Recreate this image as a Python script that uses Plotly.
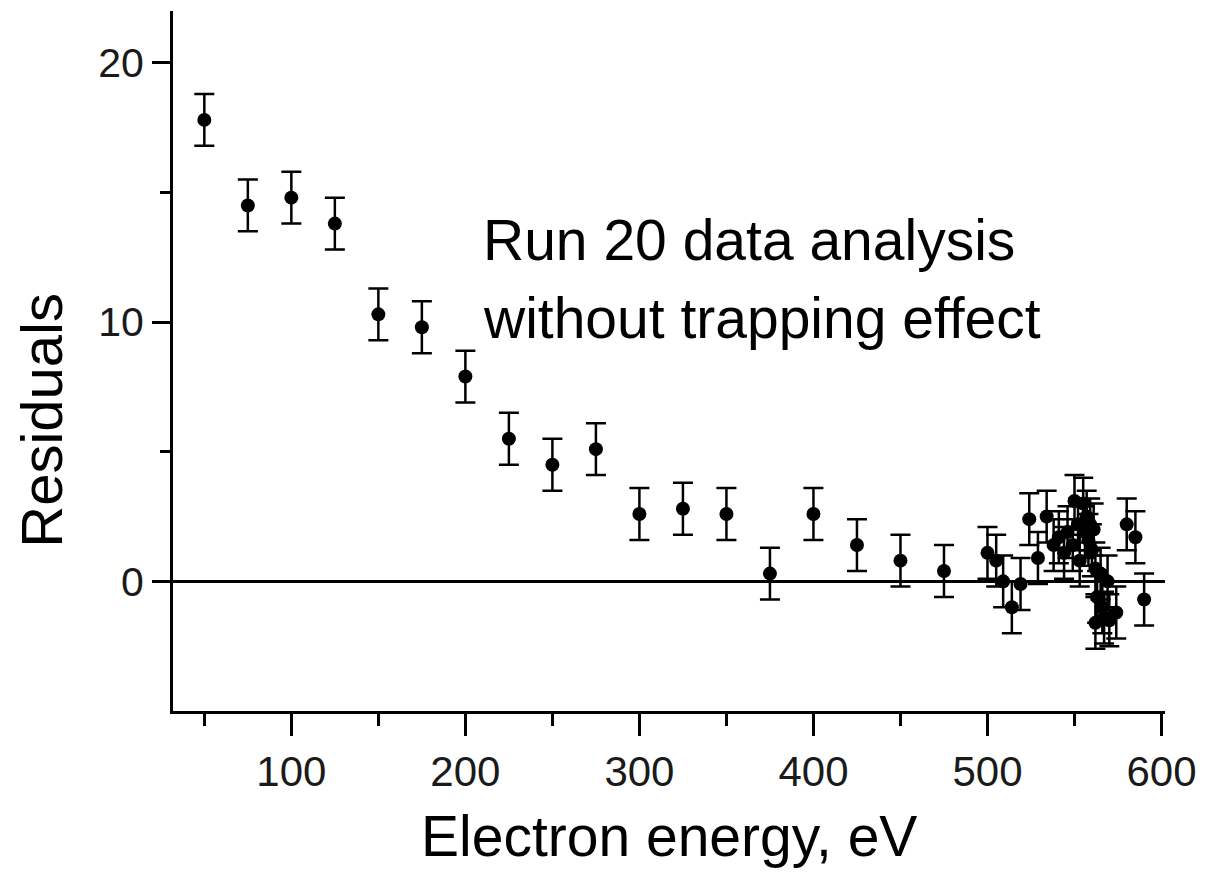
import plotly.graph_objects as go

# Electron energy (eV) and fit residuals
energy = [50, 75, 100, 125, 150, 175, 200, 225, 250, 275, 300, 325, 350, 375,
          400, 425, 450, 475, 500, 505, 509, 514, 519, 524, 529, 534, 538, 541,
          544, 546, 549, 550, 552, 553, 555, 556, 557, 558, 559, 560, 561, 562,
          563, 562, 565, 566, 567, 569, 570, 574, 580, 585, 590]
residual = [17.8, 14.5, 14.8, 13.8, 10.3, 9.8, 7.9, 5.5, 4.5, 5.1, 2.6, 2.8, 2.6, 0.3,
            2.6, 1.4, 0.8, 0.4, 1.1, 0.8, 0.0, -1.0, -0.1, 2.4, 0.9, 2.5, 1.4, 1.7,
            1.1, 1.9, 1.4, 3.1, 2.2, 0.8, 3.0, 1.9, 2.5, 1.6, 2.2, 1.2, 2.0, 0.5,
            -0.6, -1.6, 0.3, -1.0, -1.4, 0.0, -1.5, -1.2, 2.2, 1.7, -0.7]
error = [1.0] * len(energy)

x_major = [100, 200, 300, 400, 500, 600]
x_minor = [50, 150, 250, 350, 450, 550]
y_major = [0, 10, 20]
y_minor = [5, 15]

label_lines = ["Run 20 data analysis", "without trapping effect"]

FONT = "Arial, Liberation Sans, sans-serif"

fig = go.Figure()
fig.add_trace(go.Scatter(
    x=energy, y=residual, mode="markers",
    marker=dict(color="black", size=14, symbol="circle"),
    error_y=dict(type="data", array=error, visible=True,
                 color="black", thickness=2.5, width=10),
    showlegend=False,
))

fig.update_layout(
    width=1208, height=887,
    margin=dict(l=173, r=38, t=11, b=176),
    paper_bgcolor="white", plot_bgcolor="white",
    font=dict(family=FONT, color="black"),
    xaxis=dict(
        range=[32, 602], showgrid=False, zeroline=False,
        showline=True, linecolor="black", linewidth=3,
        ticks="outside", tickvals=x_major, ticktext=[str(v) for v in x_major],
        ticklen=22, tickwidth=3, tickcolor="black",
        tickfont=dict(size=42, family=FONT, color="#1a1a1a"),
        minor=dict(tickvals=x_minor, ticks="outside", ticklen=12,
                   tickwidth=3, tickcolor="black"),
    ),
    yaxis=dict(
        range=[-5, 22], showgrid=False,
        zeroline=True, zerolinecolor="black", zerolinewidth=3,
        showline=True, linecolor="black", linewidth=3,
        ticks="outside", tickvals=y_major, ticktext=[str(v) for v in y_major],
        ticklen=18, tickwidth=3, tickcolor="black",
        tickfont=dict(size=41, family=FONT, color="#1a1a1a"),
        minor=dict(tickvals=y_minor, ticks="outside", ticklen=10,
                   tickwidth=3, tickcolor="black"),
    ),
)

# Axis titles
fig.add_annotation(text="Electron energy, eV", xref="paper", yref="paper",
                   x=0.5, y=-0.1786, xanchor="center", yanchor="middle",
                   showarrow=False, font=dict(size=57, family=FONT, color="black"))
fig.add_annotation(text="Residuals", xref="paper", yref="paper",
                   x=-0.1334, y=0.4157, xanchor="center", yanchor="middle",
                   textangle=-90, showarrow=False,
                   font=dict(size=58, family=FONT, color="black"))

# In-plot label, one annotation per line
for line, ypos in zip(label_lines, [13.15, 10.14]):
    fig.add_annotation(text=line, x=209, y=ypos, xref="x", yref="y",
                       xanchor="left", yanchor="middle", showarrow=False,
                       font=dict(size=57, family=FONT, color="black"))

fig.write_html("out.html")
